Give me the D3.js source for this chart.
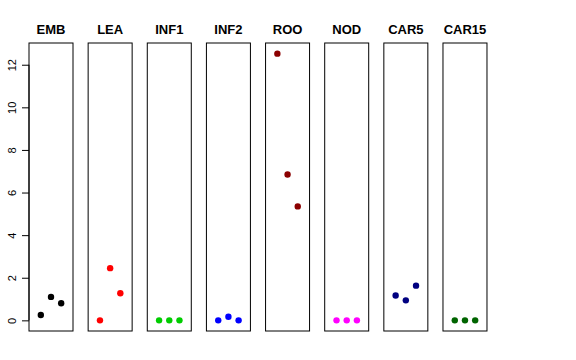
<!DOCTYPE html>
<html><head><meta charset="utf-8">
<script src="https://cdn.jsdelivr.net/npm/d3@7"></script>
<style>body{margin:0;background:#fff}svg{display:block}</style>
</head><body>
<svg id="c" width="576" height="360"></svg>
<script>
const categories = ["EMB","LEA","INF1","INF2","ROO","NOD","CAR5","CAR15"];
const colors = ["#000000","#FF0000","#00CD00","#0000FF","#8B0000","#FF00FF","#000080","#006400"];
const values = [
  [0.25, 1.1, 0.8],
  [0.0, 2.45, 1.27],
  [0.0, 0.0, 0.0],
  [0.0, 0.17, 0.0],
  [12.52, 6.85, 5.35],
  [0.0, 0.0, 0.0],
  [1.17, 0.94, 1.63],
  [0.0, 0.0, 0.0]
];
const yTicks = [0, 2, 4, 6, 8, 10, 12];

const svg = d3.select("#c");
const plotTop = 43, plotBottom = 331;
const panelW = 44, first = 29, step = 59.14;
const y = d3.scaleLinear().domain([-0.5, 13.02]).range([plotBottom, plotTop]);
const x = d3.scaleLinear().domain([-0.16, 4.16]).range([0, panelW]);

categories.forEach((cat, i) => {
  const x0 = first + i * step;
  const g = svg.append("g").attr("transform", `translate(${x0},0)`);
  g.append("rect").attr("x", 0).attr("y", plotTop).attr("width", panelW).attr("height", plotBottom - plotTop)
    .attr("fill", "none").attr("stroke", "#000").attr("stroke-width", 1);
  g.append("text").attr("x", panelW / 2).attr("y", 34).attr("text-anchor", "middle")
    .attr("font-family", "Liberation Sans, Arial, sans-serif").attr("font-weight", "bold")
    .attr("font-size", 13).text(cat);
  g.selectAll("circle").data(values[i]).join("circle")
    .attr("cx", (d, j) => x(j + 1)).attr("cy", d => y(d)).attr("r", 3.2)
    .attr("fill", colors[i]);
});

const axis = d3.axisLeft(y).tickValues(yTicks).tickSize(7).tickPadding(3).tickFormat(d3.format("d"));
const ag = svg.append("g").attr("transform", `translate(${first},0)`).call(axis);
ag.select(".domain").remove();
ag.append("line").attr("x1", 0).attr("x2", 0).attr("y1", y(0)).attr("y2", y(12)).attr("stroke", "#000");
ag.selectAll(".tick text")
  .attr("font-family", "Liberation Sans, Arial, sans-serif").attr("font-size", 11).attr("fill", "#000")
  .attr("text-anchor", "middle").attr("dy", null).attr("x", null)
  .attr("transform", "translate(-17,0) rotate(-90)").attr("dominant-baseline", "central");
</script>
</body></html>
